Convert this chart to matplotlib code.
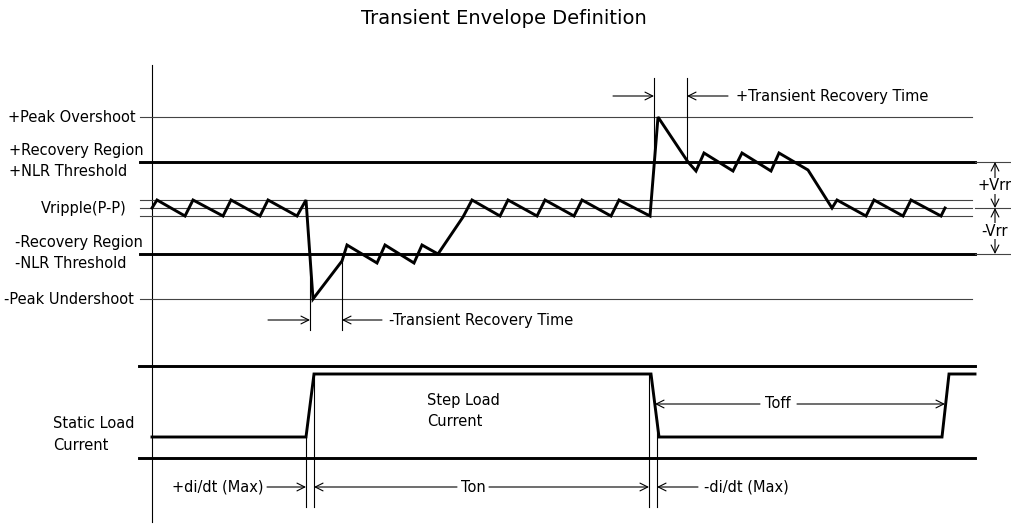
import matplotlib
matplotlib.use("Agg")
import matplotlib.pyplot as plt

# ---------------- data (diagram coordinates, pixel-like units) ----------------
title = "Transient Envelope Definition"

# reference levels (y)
level_names = ["+Peak Overshoot", "+NLR", "Vripple top", "Vripple mid", "Vripple bottom", "-NLR", "-Peak Undershoot"]
level_y = [117, 162, 200, 208, 216, 254, 299]
level_thick = [False, True, False, False, False, True, False]

# output voltage waveform
volt_x = [152, 157, 185, 193, 223, 231, 260, 268, 297, 306, 313, 342, 347, 377, 385, 414, 422, 438,
          463, 472, 500, 508, 537, 545, 574, 582, 611, 619, 650, 658, 688, 696, 704, 733, 742, 771,
          779, 808, 832, 837, 866, 874, 903, 911, 941, 945]
volt_y = [208, 200, 216, 200, 216, 200, 216, 200, 216, 200, 299, 261, 245, 263, 245, 263, 245, 254,
          217, 200, 216, 200, 216, 200, 216, 200, 216, 200, 216, 117, 162, 171, 153, 171, 153, 171,
          153, 170, 208, 200, 216, 200, 216, 200, 216, 208]

# load current waveform
cur_x = [152, 306, 314, 651, 659, 942, 949, 975]
cur_y = [437, 437, 374, 374, 437, 437, 374, 374]
cur_frame_y = [366, 458]

# ---------------- figure ----------------
fig = plt.figure(figsize=(10.12, 5.24), dpi=100)
ax = fig.add_axes([0, 0, 1, 1])
ax.set_xlim(0, 1012)
ax.set_ylim(524, 0)
ax.axis("off")

FS = 10.5
thin = dict(color="#444444", lw=0.8)
black_thin = dict(color="black", lw=0.8)
thick = dict(color="black", lw=2.1)

ax.text(504, 19, title, ha="center", va="center", fontsize=14)

# vertical axis
ax.plot([152, 152], [65, 522], **black_thin)

# reference levels
for y, tk in zip(level_y, level_thick):
    if tk:
        ax.plot([140, 975], [y, y], **thick)
    else:
        ax.plot([140, 972], [y, y], **thin)
# extensions to the Vrr markers
for y in (level_y[1], level_y[3], level_y[5]):
    ax.plot([975, 1010], [y, y], **thin)

# left labels
ax.text(136, 117, "+Peak Overshoot", ha="right", va="center", fontsize=FS)
ax.text(9, 150, "+Recovery Region", ha="left", va="center", fontsize=FS)
ax.text(9, 171, "+NLR Threshold", ha="left", va="center", fontsize=FS)
ax.text(127, 208, "Vripple(P-P)", ha="right", va="center", fontsize=FS)
ax.text(15, 242, "-Recovery Region", ha="left", va="center", fontsize=FS)
ax.text(15, 263, "-NLR Threshold", ha="left", va="center", fontsize=FS)
ax.text(4, 299, "-Peak Undershoot", ha="left", va="center", fontsize=FS)

# waveform
ax.plot(volt_x, volt_y, color="black", lw=2.1, solid_joinstyle="miter")

arrow = dict(arrowstyle="->", color="black", lw=0.8, shrinkA=0, shrinkB=0, mutation_scale=14)

def harrow(x0, x1, y):
    ax.annotate("", xy=(x1, y), xytext=(x0, y), arrowprops=arrow)

def varrow(x, y0, y1):
    ax.annotate("", xy=(x, y1), xytext=(x, y0), arrowprops=arrow)

# -Transient recovery time
ax.plot([310, 310], [254, 330], **black_thin)
ax.plot([342, 342], [261, 330], **black_thin)
harrow(268, 310, 320)
harrow(382, 342, 320)
ax.text(389, 320, "-Transient Recovery Time", ha="left", va="center", fontsize=FS)

# +Transient recovery time
ax.plot([654, 654], [78, 162], **black_thin)
ax.plot([687, 687], [78, 162], **black_thin)
harrow(613, 654, 96)
harrow(728, 687, 96)
ax.text(736, 96, "+Transient Recovery Time", ha="left", va="center", fontsize=FS)

# Vrr markers
varrow(995, 185, 162)
varrow(995, 185, 208)
varrow(995, 231, 208)
varrow(995, 231, 254)
ax.text(995, 186, "+Vrr", ha="center", va="center", fontsize=FS,
        bbox=dict(facecolor="white", edgecolor="none", pad=0.3))
ax.text(995, 231, "-Vrr", ha="center", va="center", fontsize=FS,
        bbox=dict(facecolor="white", edgecolor="none", pad=0.3))

# current section
for y in cur_frame_y:
    ax.plot([139, 975], [y, y], **thick)
ax.plot(cur_x, cur_y, color="black", lw=2.1, solid_joinstyle="miter")

ax.text(53, 423, "Static Load", ha="left", va="center", fontsize=FS)
ax.text(53, 445, "Current", ha="left", va="center", fontsize=FS)
ax.text(427, 400, "Step Load", ha="left", va="center", fontsize=FS)
ax.text(427, 421, "Current", ha="left", va="center", fontsize=FS)

# timing verticals
ax.plot([306, 306], [437, 507], **black_thin)
ax.plot([314, 314], [374, 507], **black_thin)
ax.plot([649, 649], [374, 507], **black_thin)
ax.plot([657, 657], [420, 507], **black_thin)

# timing arrows
ax.text(172, 487, "+di/dt (Max)", ha="left", va="center", fontsize=FS)
harrow(267, 306, 487)
harrow(457, 314, 487)
ax.text(473, 487, "Ton", ha="center", va="center", fontsize=FS)
harrow(489, 649, 487)
harrow(698, 657, 487)
ax.text(704, 487, "-di/dt (Max)", ha="left", va="center", fontsize=FS)

harrow(760, 655, 404)
ax.text(778, 404, "Toff", ha="center", va="center", fontsize=FS)
harrow(797, 945, 404)

fig.savefig("out.png", dpi=100)
